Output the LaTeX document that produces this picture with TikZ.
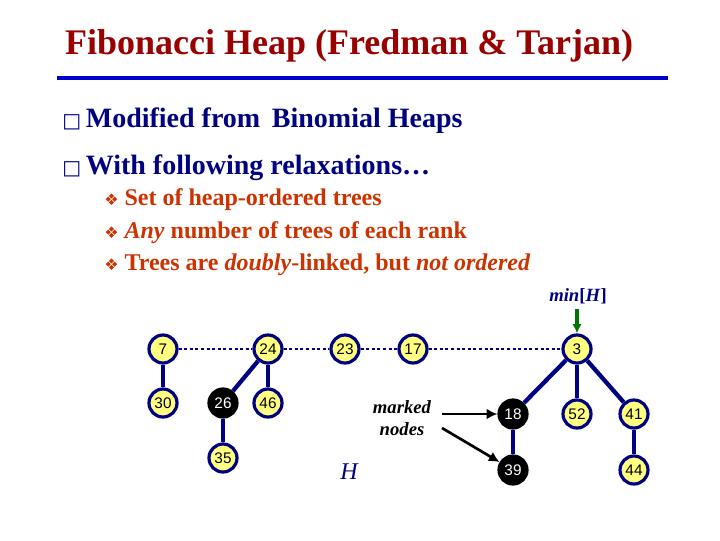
\documentclass[tikz,border=0pt]{standalone}
\usepackage{fontspec}
\usetikzlibrary{arrows.meta}
\setmainfont{Liberation Serif}
\newfontfamily\arial{Liberation Sans}
\newfontfamily\dejavu{DejaVu Sans}
\definecolor{navy}{HTML}{000080}
\definecolor{tred}{HTML}{990000}
\definecolor{orng}{HTML}{CC3300}
\definecolor{nodey}{HTML}{FFFF80}
\definecolor{gline}{HTML}{0000CC}
\begin{document}
\begin{tikzpicture}[x=0.75pt,y=-0.75pt,
  hn/.style={circle,draw=navy,line width=2.4pt,fill=nodey,minimum size=21pt,inner sep=0pt,font=\arial\fontsize{11.5}{12}\selectfont},
  mk/.style={hn,fill=black,draw=black,text=white},
  tl/.style={navy,line width=3.2pt},
  ln/.style={navy,line width=2.2pt,dotted},
  lbl/.style={anchor=west,inner sep=0pt}]
\useasboundingbox (0,0) rectangle (720,540);
\node (title) at (349,46) {\color{tred}\fontsize{27}{30}\selectfont\bfseries Fibonacci Heap (Fredman \& Tarjan)};
\draw[gline,line width=3pt] (57,78) -- (668,78);
\node[lbl] (b1) at (62,121) {\color{navy}\fontsize{21}{24}\selectfont\bfseries{\dejavu\fontsize{15}{15}\selectfont □}\,Modified from\, Binomial Heaps};
\node[lbl] (b2) at (62,168) {\color{navy}\fontsize{21}{24}\selectfont\bfseries{\dejavu\fontsize{15}{15}\selectfont □}\,With following relaxations…};
\node[lbl] (s1) at (104,200) {\color{orng}\fontsize{18}{20}\selectfont\bfseries{\dejavu\fontsize{12}{12}\selectfont ❖} Set of heap-ordered trees};
\node[lbl] (s2) at (104,233) {\color{orng}\fontsize{18}{20}\selectfont\bfseries{\dejavu\fontsize{12}{12}\selectfont ❖} \textit{Any} number of trees of each rank};
\node[lbl] (s3) at (104,265) {\color{orng}\fontsize{18}{20}\selectfont\bfseries{\dejavu\fontsize{12}{12}\selectfont ❖} Trees are \textit{doubly}-linked, but \textit{not ordered}};
\node[hn] (n7) at (163,349) {7};
\node[hn] (n24) at (268,349) {24};
\node[hn] (n23) at (345,349) {23};
\node[hn] (n17) at (413,349) {17};
\node[hn] (n3) at (577,349) {3};
\node[hn] (n30) at (163,403) {30};
\node[mk] (n26) at (223,403) {26};
\node[hn] (n46) at (268,403) {46};
\node[hn] (n35) at (223,458) {35};
\node[mk] (n18) at (513,414) {18};
\node[hn] (n52) at (577,414) {52};
\node[hn] (n41) at (634,414) {41};
\node[mk] (n39) at (513,470) {39};
\node[hn] (n44) at (634,470) {44};
\draw[ln] (n7) -- (n24); \draw[ln] (n24) -- (n23); \draw[ln] (n23) -- (n17); \draw[ln] (n17) -- (n3);
\draw[tl] (n7) -- (n30); \draw[tl] (n24) -- (n26); \draw[tl] (n24) -- (n46); \draw[tl] (n26) -- (n35);
\draw[tl] (n3) -- (n18); \draw[tl] (n3) -- (n52); \draw[tl] (n3) -- (n41); \draw[tl] (n18) -- (n39); \draw[tl] (n41) -- (n44);
\node (min) at (578,296) {\color{navy}\fontsize{14}{16}\selectfont\bfseries\textit{min}[\textit{H}]};
\coordinate (ma) at (577,309);
\draw[-{Latex[length=7pt,width=7pt]},green!45!black,line width=2.4pt] (ma) -- (n3);
\node[align=center,font=\fontsize{14}{16}\selectfont\bfseries\itshape] (mn) at (402,418) {marked\\nodes};
\coordinate (a1) at (442,414);
\coordinate (a2) at (442,428);
\draw[-{Latex[length=8pt,width=8pt]},line width=2pt] (a1) -- (n18);
\draw[-{Latex[length=8pt,width=8pt]},line width=2pt] (a2) -- (n39);
\node (H) at (349,472) {\color{navy}\fontsize{18}{20}\selectfont\itshape H};
\end{tikzpicture}
\end{document}
